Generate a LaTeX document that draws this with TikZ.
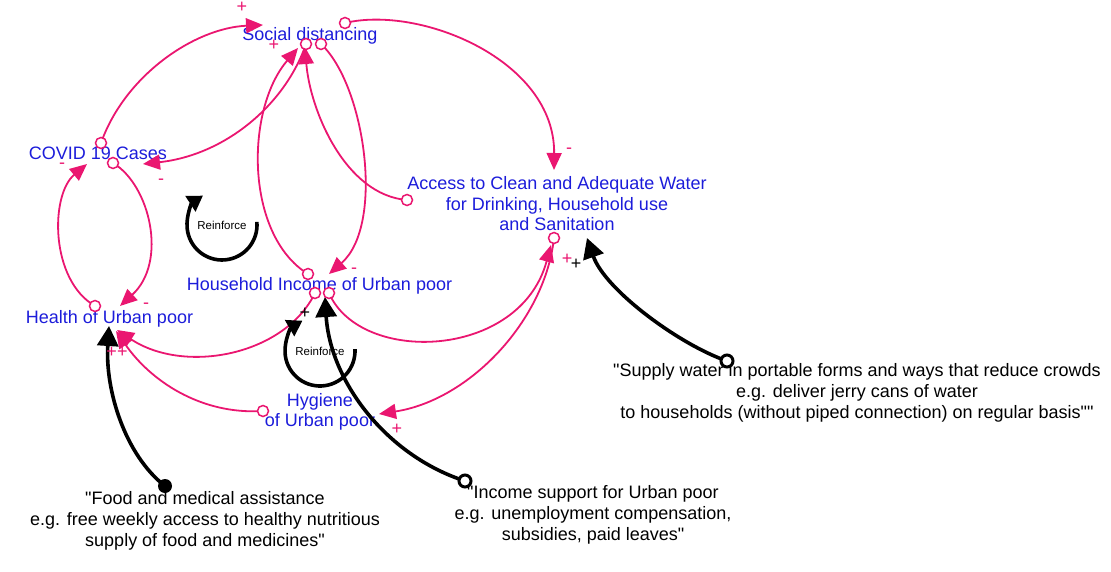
\documentclass[tikz,border=0pt]{standalone}
\usepackage{fontspec}
\setmainfont{Liberation Sans}[Ligatures=TeXOff]
\usetikzlibrary{arrows.meta}
\definecolor{cldpink}{RGB}{234,22,112}
\definecolor{cldblue}{RGB}{28,28,218}

\begin{document}
\begin{tikzpicture}[x=1pt,y=-1pt]
	\tikzstyle{every node}+=[inner sep=0pt]
	\tikzstyle{var}=[text=cldblue,font=\fontsize{18}{20.5}\selectfont,align=center]
	\tikzstyle{note}=[text=black,font=\fontsize{18}{21}\selectfont,align=center]
	\tikzstyle{link}=[cldpink,line width=1.8pt,-{Triangle[length=17pt,width=15pt]}]
	\tikzstyle{tail}=[circle,draw=cldpink,fill=white,line width=1.5pt,minimum size=11pt]
	\tikzstyle{sign}=[text=cldpink,font=\fontsize{18}{18}\selectfont]
	\tikzstyle{blacksign}=[text=black,font=\fontsize{18}{18}\selectfont]
	\tikzstyle{lever}=[black,line width=3.6pt,-{Triangle[length=20pt,width=21pt]}]
	\tikzstyle{levertail}=[circle,draw=black,fill=white,line width=3pt,minimum size=12pt]
	\tikzstyle{loopmark}=[black,line width=3.6pt,-{Triangle[length=15pt,width=18pt]}]
	\useasboundingbox (0,0) rectangle (1111,572);
	\node [var] (sd) at (310,35.5) {Social distancing};
	\node [var] (covid) at (98,153.5) {COVID 19 Cases};
	\node [var] (water) at (557,204) {Access to Clean and Adequate Water\\for Drinking, Household use\\and Sanitation};
	\node [var] (income) at (319.5,285.4) {Household Income of Urban poor};
	\node [var] (health) at (109.5,318.7) {Health of Urban poor};
	\node [var] (hygiene) at (320,412) {Hygiene\\of Urban poor};
	\node [note] (food) at (205,521) {"Food and medical assistance\\e.g. free weekly access to healthy nutritious\\supply of food and medicines"};
	\node [note] (incsup) at (593,515) {"Income support for Urban poor\\e.g. unemployment compensation,\\subsidies, paid leaves"};
	\node [note] (watsup) at (857,393) {"Supply water in portable forms and ways that reduce crowds\\e.g. deliver jerry cans of water\\to households (without piped connection) on regular basis""};
	\node [font=\fontsize{11.5}{12}\selectfont] (loopA) at (222,225) {Reinforce};
	\node [font=\fontsize{11.5}{12}\selectfont] (loopB) at (320,351) {Reinforce};
	\coordinate (oCovSd) at (101,143);
	\coordinate (oSdCov) at (306,44);
	\coordinate (oSdInc) at (321,44);
	\coordinate (oSdWat) at (345,23);
	\coordinate (oWatSd) at (407,200);
	\coordinate (oCovHea) at (113,163);
	\coordinate (oHeaCov) at (95,306);
	\coordinate (oIncSd) at (308,274);
	\coordinate (oIncHea) at (315,293);
	\coordinate (oIncWat) at (329,293);
	\coordinate (oWatHyg) at (554,238);
	\coordinate (oHygHea) at (263,411);
	\coordinate (tCovSd) at (263,25);
	\coordinate (tSdCov) at (143,164);
	\coordinate (tSdWat) at (554,170);
	\coordinate (tWatSd) at (305,47);
	\coordinate (tIncSd) at (298,48);
	\coordinate (tCovHea) at (120,306);
	\coordinate (tHeaCov) at (87,164);
	\coordinate (tSdInc) at (329,274);
	\coordinate (tIncHea) at (117,330);
	\coordinate (tHygHea) at (116,331);
	\coordinate (tIncWat) at (551,245);
	\coordinate (tWatHyg) at (379,414);
	\coordinate (oFood) at (165,486);
	\coordinate (oIncSup) at (465,481);
	\coordinate (oWatSup) at (727,361);
	\coordinate (tFood) at (109,326);
	\coordinate (tIncSup) at (325,297);
	\coordinate (tWatSup) at (587,238);
	\draw [link] (oCovSd) .. controls (125,75) and (195,28) .. (tCovSd);
	\draw [link] (oSdCov) .. controls (285,105) and (225,155) .. (tSdCov);
	\draw [link] (oSdWat) .. controls (420,5) and (555,60) .. (tSdWat);
	\draw [link] (oWatSd) .. controls (345,195) and (310,110) .. (tWatSd);
	\draw [link] (oCovHea) .. controls (150,185) and (168,262) .. (tCovHea);
	\draw [link] (oHeaCov) .. controls (50,280) and (50,195) .. (tHeaCov);
	\draw [link] (oIncSd) .. controls (245,235) and (245,110) .. (tIncSd);
	\draw [link] (oSdInc) .. controls (365,85) and (385,225) .. (tSdInc);
	\draw [link] (oIncHea) .. controls (285,355) and (185,375) .. (tIncHea);
	\draw [link] (oHygHea) .. controls (200,415) and (150,380) .. (tHygHea);
	\draw [link] (oIncWat) .. controls (360,365) and (520,360) .. (tIncWat);
	\draw [link] (oWatHyg) .. controls (545,320) and (470,400) .. (tWatHyg);
	\draw [lever] (oFood) .. controls (125,455) and (105,390) .. (tFood);
	\draw [lever] (oIncSup) .. controls (385,455) and (330,380) .. (tIncSup);
	\draw [lever] (oWatSup) .. controls (680,345) and (605,290) .. (tWatSup);
	\draw [loopmark] ([shift={(-5:35)}]loopA.center) arc (-5:237:35);
	\draw [loopmark] ([shift={(-3:35)}]loopB.center) arc (-3:240:35);
	\foreach \o in {oCovSd,oSdCov,oSdInc,oSdWat,oWatSd,oCovHea,oHeaCov,oIncSd,oIncHea,oIncWat,oWatHyg,oHygHea}
		\node [tail] at (\o) {};
	\fill [black] (oFood) circle (7);
	\node [levertail] at (oIncSup) {};
	\node [levertail] at (oWatSup) {};
	\node [sign] (sCovSd) at (242,7) {+};
	\node [sign] (sIncSd) at (274,45) {+};
	\node [sign] (sSdCov) at (161,182) {-};
	\node [sign] (sSdWat) at (569,151) {-};
	\node [sign] (sHeaCov) at (62,166) {-};
	\node [sign] (sCovHea) at (146,306) {-};
	\node [sign] (sSdInc) at (354,271) {-};
	\node [sign] (sHea) at (117,352) {++};
	\node [sign] (sIncWat) at (567,259) {+};
	\node [sign] (sWatHyg) at (397,429) {+};
	\node [blacksign] (sIncSup) at (305,313) {+};
	\node [blacksign] (sWatSup) at (576,264) {+};
\end{tikzpicture}
\end{document}
